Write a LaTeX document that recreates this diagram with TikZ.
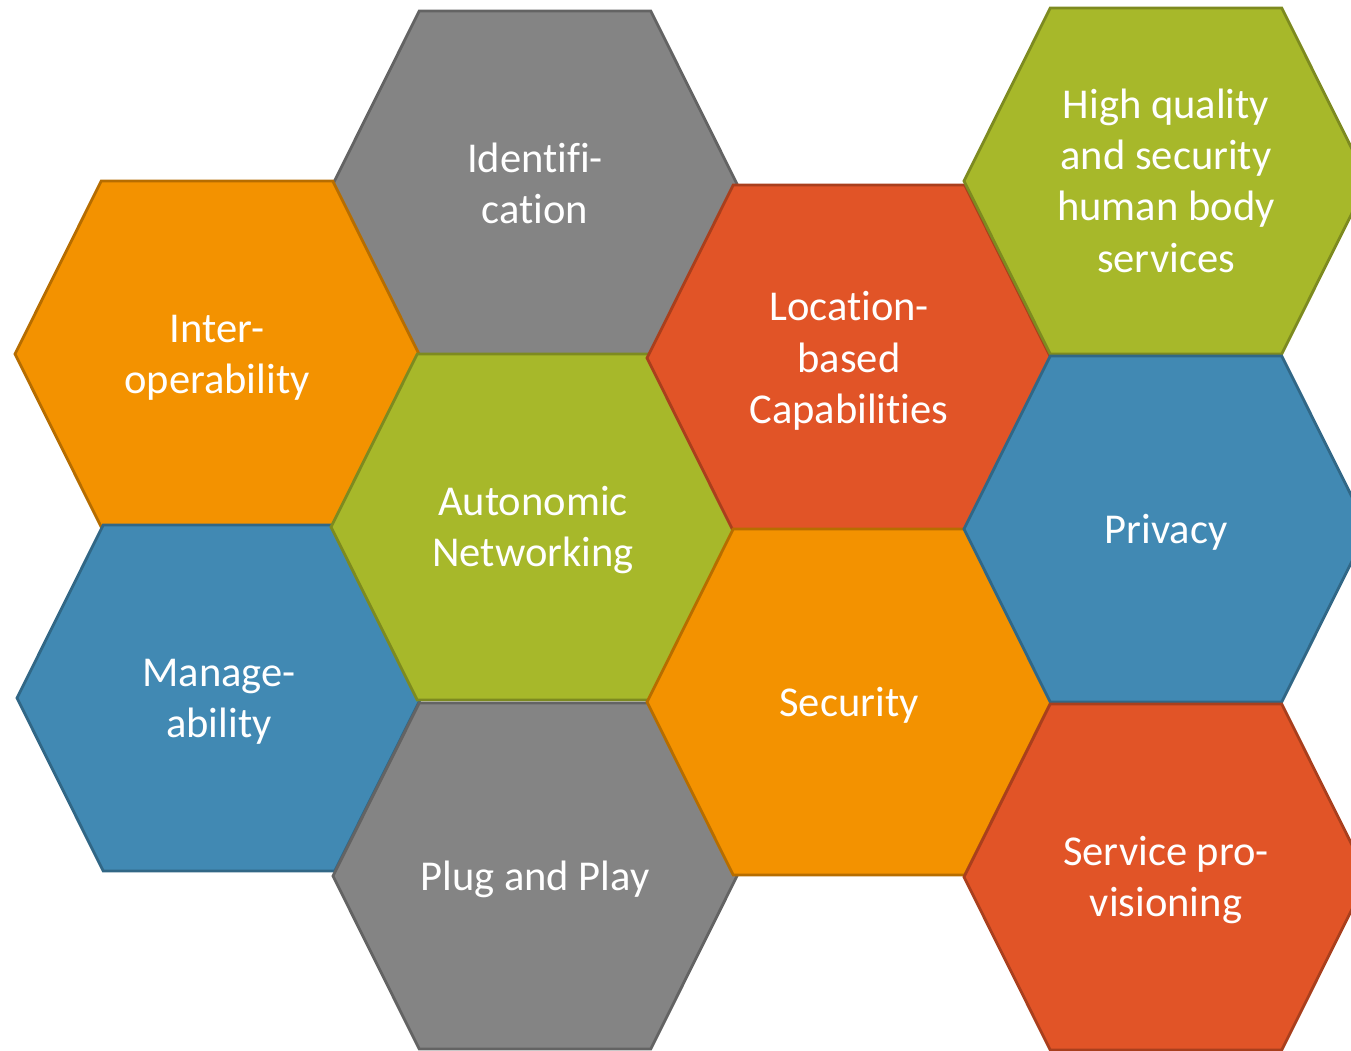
\documentclass[tikz,border=0pt]{standalone}
\usepackage{fontspec}
\setmainfont[Ligatures=NoCommon]{Carlito}
\usetikzlibrary{shapes.symbols}
\definecolor{hexgray}{HTML}{848484}
\definecolor{hexorange}{HTML}{F39200}
\definecolor{hexgreen}{HTML}{A7B82A}
\definecolor{hexred}{HTML}{E15427}
\definecolor{hexblue}{HTML}{4189B3}
% #1 = colour, #2 = number of text lines
\tikzset{hexa/.style 2 args={shape=signal,signal to=east and west,signal pointer angle=127,
    minimum width=4.04cm,minimum height=3.46cm,inner sep=0pt,outer sep=0pt,
    line width=0.8pt,text=white,align=center,
    font=\fontsize{12.1}{14.6}\selectfont,
    /utils/exec={\pgfmathsetlengthmacro\hexth{(#2-1)*14.6pt+9pt}},
    text height=\hexth,text depth=0.9pt,
    fill=#1,draw=#1!75!black}}

\begin{document}
\begin{tikzpicture}
  \useasboundingbox (0,0) rectangle (13.51,-10.50);
  \clip (0,0) rectangle (13.51,-10.50);
      \node[hexa={hexgray}{2}]   at (5.35,-1.84) (ident) {Identifi-\\cation};
      \node[hexa={hexorange}{2}] at (2.17,-3.54) (inter) {Inter-\\operability};
      \node[hexa={hexblue}{2}]   at (2.19,-6.98) (manage) {Manage-\\ability};
      \node[hexa={hexgreen}{2}]  at (5.33,-5.27) (auto) {Autonomic\\Networking};
      \node[hexa={hexgray}{1}]   at (5.35,-8.76) (plug) {Plug and Play};
      \node[hexa={hexred}{3}]    at (8.49,-3.58) (loc) {Location-\\based\\Capabilities};
      \node[hexa={hexorange}{1}] at (8.49,-7.02) (sec) {Security};
      \node[hexa={hexgreen}{4}]  at (11.66,-1.81) (high) {High quality\\and security\\human body\\services};
      \node[hexa={hexblue}{1}]   at (11.66,-5.29) (priv) {Privacy};
      \node[hexa={hexred}{2}]    at (11.66,-8.77) (serv) {Service pro-\\visioning};
  \end{tikzpicture}
\end{document}
